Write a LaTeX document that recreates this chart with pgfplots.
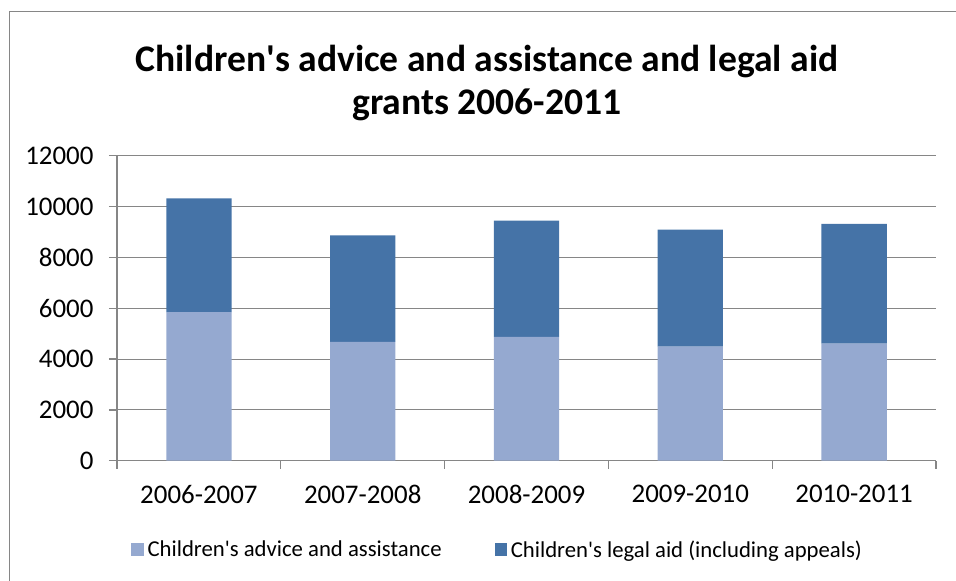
\documentclass[border=0pt]{standalone}
\usepackage{fontspec}
\setmainfont{Carlito}
\usepackage{pgfplots}
\pgfplotsset{compat=1.18}
\definecolor{lightbar}{RGB}{149,169,208}
\definecolor{darkbar}{RGB}{69,115,167}
\definecolor{gridgray}{RGB}{134,134,134}
\begin{document}
\begin{tikzpicture}[x=1bp,y=1bp]
\useasboundingbox (0,0) rectangle (956,581);
\draw[gridgray, line width=1.8bp] (9.5,0) -- (9.5,569.5) -- (956,569.5);
\node[font=\fontsize{37.7}{43}\selectfont\bfseries, align=center] at (487,498) {Children\textquotesingle s advice and assistance and legal aid\\grants 2006-2011};
\begin{axis}[
  at={(117bp,120.3bp)}, anchor=south west,
  width=819bp, height=305bp, scale only axis,
  ybar stacked, bar width=65.3bp,
  xmin=-0.5, xmax=4.5, ymin=0, ymax=12000,
  xtick={0,1,2,3,4},
  xticklabels={2006-2007,2007-2008,2008-2009,2009-2010,2010-2011},
  minor xtick={-0.5,0.5,1.5,2.5,3.5,4.5},
  ytick={0,2000,...,12000},
  scaled y ticks=false,
  axis x line*=bottom, axis y line*=left,
  axis line style={gridgray, line width=1.3bp, -},
  ymajorgrids, grid style={gridgray, line width=1bp},
  tick style={gridgray, line width=1.3bp},
  major x tick style={draw=none},
  tick align=outside,
  major tick length=8bp, minor tick length=8bp,
  ticklabel style={font=\fontsize{27}{32}\selectfont},
  xticklabel style={yshift=-13bp},
  yticklabel style={xshift=-12bp},
  /pgf/number format/assume math mode=true,
  /pgf/number format/1000 sep={},
  legend columns=2,
  legend style={at={(0.4636,-0.291)}, anchor=center, draw=none, font=\fontsize{22.8}{27}\selectfont,
    inner sep=0pt, nodes={inner sep=0pt},
    /tikz/every odd column/.append style={column sep=3.7bp},
    /tikz/every even column/.append style={column sep=53bp}},
  legend image code/.code={\fill[#1] (0bp,-6.25bp) rectangle (12.5bp,6.25bp);},
]
\addplot[fill=lightbar, draw=none] coordinates {(0,5850) (1,4670) (2,4867) (3,4485) (4,4603)};
\addplot[fill=darkbar, draw=none] coordinates {(0,4474) (1,4198) (2,4576) (3,4604) (4,4710)};
\legend{Children\textquotesingle s advice and assistance, Children\textquotesingle s legal aid (including appeals)}
\end{axis}
\end{tikzpicture}
\end{document}
